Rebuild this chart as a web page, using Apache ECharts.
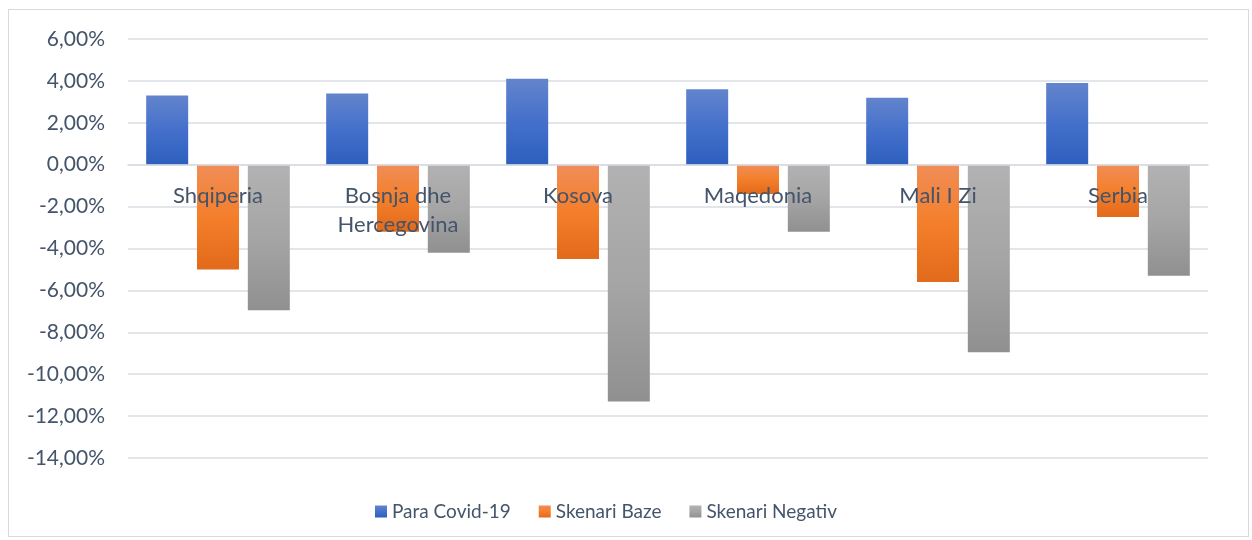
<!DOCTYPE html>
<html>
<head>
<meta charset="utf-8">
<script src="https://cdn.jsdelivr.net/npm/echarts@6/dist/echarts.min.js"></script>
<style>
html,body{margin:0;padding:0;background:#fff;}
#frame{position:absolute;left:8px;top:9px;width:1241px;height:528px;border:1.5px solid #d9d9d9;box-sizing:border-box;}
#chart{position:absolute;left:0;top:0;width:1252px;height:540px;}
</style>
</head>
<body>
<div id="frame"></div>
<div id="chart"></div>
<script>
const categories = ['Shqiperia', 'Bosnja dhe\nHercegovina', 'Kosova', 'Maqedonia', 'Mali I Zi', 'Serbia'];
const paraCovid = [3.3, 3.4, 4.1, 3.6, 3.2, 3.9];
const skenariBaze = [-5.0, -3.2, -4.5, -1.4, -5.6, -2.5];
const skenariNegativ = [-6.95, -4.2, -11.3, -3.2, -8.95, -5.3];
const seriesNames = ['Para Covid-19', 'Skenari Baze', 'Skenari Negativ'];

const font = 'Lato';
const textColor = '#44546A';

function grad(c1, c2, c3) {
  return new echarts.graphic.LinearGradient(0, 0, 0, 1, [
    {offset: 0, color: c1}, {offset: 0.5, color: c2}, {offset: 1, color: c3}
  ]);
}

const chart = echarts.init(document.getElementById('chart'), null, {renderer: 'canvas'});
chart.setOption({
  animation: false,
  textStyle: {fontFamily: font},
  grid: {left: 128, right: 44, top: 39, bottom: 82, containLabel: false},
  legend: {
    top: 497,
    left: 370,
    itemWidth: 12,
    itemHeight: 12,
    itemGap: 28,
    icon: 'rect',
    textStyle: {fontFamily: font, fontSize: 19, color: textColor},
    data: seriesNames
  },
  xAxis: {
    type: 'category',
    data: categories,
    z: 10,
    axisLine: {onZero: true, lineStyle: {color: '#d9dde3', width: 1.5}},
    axisTick: {show: false},
    axisLabel: {
      interval: 0, margin: -277, fontFamily: font, fontSize: 22, color: textColor, lineHeight: 29
    }
  },
  yAxis: {
    type: 'value',
    min: -14, max: 6, interval: 2,
    axisLine: {show: false},
    axisTick: {show: false},
    splitLine: {lineStyle: {color: '#d9dde3', width: 1.5}},
    axisLabel: {
      margin: 23, fontFamily: font, fontSize: 21, color: textColor,
      formatter: v => v.toFixed(2).replace('.', ',') + '%'
    }
  },
  series: [
    {name: seriesNames[0], type: 'bar', data: paraCovid, barWidth: 42, barGap: '21%',
     itemStyle: {color: grad('#6384cc', '#4470cb', '#2d5fbe')}},
    {name: seriesNames[1], type: 'bar', data: skenariBaze, barWidth: 42, barGap: '21%',
     itemStyle: {color: grad('#f08d57', '#f47f2b', '#e26a1b')}},
    {name: seriesNames[2], type: 'bar', data: skenariNegativ, barWidth: 42, barGap: '21%',
     itemStyle: {color: grad('#b2b2b2', '#a5a5a5', '#909090')}}
  ]
});
</script>
</body>
</html>
